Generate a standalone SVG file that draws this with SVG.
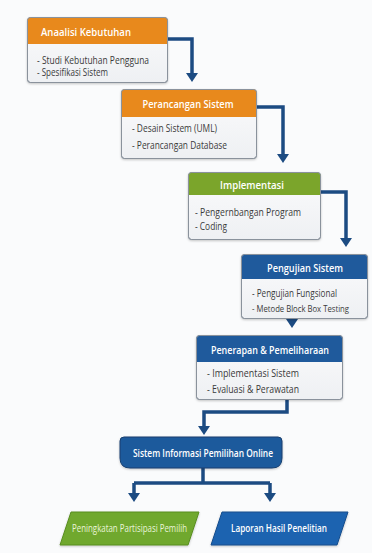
<svg xmlns="http://www.w3.org/2000/svg" width="372" height="553" viewBox="0 0 372 553">
<defs>
<filter id="sh" x="-10%" y="-10%" width="120%" height="130%"><feDropShadow dx="0" dy="1" stdDeviation="1" flood-color="#000" flood-opacity="0.22"/></filter>
<linearGradient id="bodyg" x1="0" y1="0" x2="0" y2="1"><stop offset="0" stop-color="#FBFBFC"/><stop offset="1" stop-color="#EEF0F3"/></linearGradient>
<marker id="ah" markerUnits="userSpaceOnUse" markerWidth="13" markerHeight="13" viewBox="0 -6.5 10 13" refX="0" refY="0" orient="auto"><path d="M0,-6 L9,0 L0,6 Z" fill="#1C4B82"/></marker>
<style>
.body{fill:url(#bodyg);stroke:#9199A3;stroke-width:1;}
.frame{fill:none;stroke:#8A929C;stroke-width:1;}
.orange{fill:#E8891C;}
.green{fill:#7BA52B;}
.blue{fill:#1F5A9C;}
.ht{font-family:"Open Sans","Liberation Sans",sans-serif;font-size:11.5px;font-weight:600;fill:#FFFFFF;}
.bt{font-family:"Open Sans","Liberation Sans",sans-serif;font-size:10px;fill:#3A3A3A;}
.con{fill:none;stroke:#1C4B82;stroke-width:3.5;stroke-linejoin:miter;}
</style>
</defs>
<rect width="372" height="553" fill="#FAFBFC"/>

<g id="connectors">
<path class="con" d="M168,39 H192 V73" marker-end="url(#ah)"/>
<path class="con" d="M257,107 H283 V154" marker-end="url(#ah)"/>
<path class="con" d="M321,192 H346 V238" marker-end="url(#ah)"/>
<path class="con" d="M292,317 V319" marker-end="url(#ah)"/>
<path class="con" d="M287,400 V412 H204 V426" marker-end="url(#ah)"/>
<path class="con" d="M203,468 V483"/>
<path class="con" d="M134,483 H270"/>
<path class="con" d="M134,483 V493" marker-end="url(#ah)"/>
<path class="con" d="M270,483 V493" marker-end="url(#ah)"/>
</g>

<g id="analisi">
<rect class="body" x="27.5" y="17.5" width="140" height="65" rx="3" filter="url(#sh)"/>
<path class="orange" d="M27.5,44 V20.5 Q27.5,17.5 30.5,17.5 H164.5 Q167.5,17.5 167.5,20.5 V44 Z"/>
<rect class="frame" x="27.5" y="17.5" width="140" height="65" rx="3"/>
<text class="ht" x="41" y="36" textLength="90" lengthAdjust="spacingAndGlyphs">Anaalisi Kebutuhan</text>
<text class="bt" x="37" y="63.5" textLength="112" lengthAdjust="spacingAndGlyphs">- Studi Kebutuhan Pengguna</text>
<text class="bt" x="37" y="76" textLength="71" lengthAdjust="spacingAndGlyphs">- Spesifikasi Sistem</text>
</g>

<g id="perancangan">
<rect class="body" x="121.5" y="89.5" width="135" height="69" rx="3" filter="url(#sh)"/>
<path class="orange" d="M121.5,117 V92.5 Q121.5,89.5 124.5,89.5 H253.5 Q256.5,89.5 256.5,92.5 V117 Z"/>
<rect class="frame" x="121.5" y="89.5" width="135" height="69" rx="3"/>
<text class="ht" x="188" y="107.5" text-anchor="middle" textLength="91" lengthAdjust="spacingAndGlyphs">Perancangan Sistem</text>
<text class="bt" x="132" y="131.5" textLength="85" lengthAdjust="spacingAndGlyphs">- Desain Sistem (UML)</text>
<text class="bt" x="132" y="148.5" textLength="95" lengthAdjust="spacingAndGlyphs">- Perancangan Database</text>
</g>

<g id="implementasi">
<rect class="body" x="188.5" y="172.5" width="132" height="67" rx="3" filter="url(#sh)"/>
<path class="green" d="M188.5,195 V175.5 Q188.5,172.5 191.5,172.5 H317.5 Q320.5,172.5 320.5,175.5 V195 Z"/>
<rect class="frame" x="188.5" y="172.5" width="132" height="67" rx="3"/>
<text class="ht" x="252" y="189" text-anchor="middle" textLength="64" lengthAdjust="spacingAndGlyphs">Implementasi</text>
<text class="bt" x="195" y="215.5" textLength="106" lengthAdjust="spacingAndGlyphs">- Pengernbangan Program</text>
<text class="bt" x="195" y="229.5" textLength="32" lengthAdjust="spacingAndGlyphs">- Coding</text>
</g>

<g id="pengujian">
<rect class="body" x="241.5" y="254.5" width="126" height="64" rx="3" filter="url(#sh)"/>
<path class="blue" d="M241.5,279 V257.5 Q241.5,254.5 244.5,254.5 H364.5 Q367.5,254.5 367.5,257.5 V279 Z"/>
<rect class="frame" x="241.5" y="254.5" width="126" height="64" rx="3"/>
<text class="ht" x="305" y="272" text-anchor="middle" textLength="76" lengthAdjust="spacingAndGlyphs">Pengujian Sistem</text>
<text class="bt" x="252" y="296.5" textLength="85" lengthAdjust="spacingAndGlyphs">- Pengujian Fungsional</text>
<text class="bt" x="252" y="311.5" textLength="97" lengthAdjust="spacingAndGlyphs" style="font-size:9px">- Metode Block Box Testing</text>
</g>

<g id="penerapan">
<rect class="body" x="196.5" y="335.5" width="146" height="64" rx="3" filter="url(#sh)"/>
<path class="blue" d="M196.5,362 V338.5 Q196.5,335.5 199.5,335.5 H339.5 Q342.5,335.5 342.5,338.5 V362 Z"/>
<rect class="frame" x="196.5" y="335.5" width="146" height="64" rx="3"/>
<text class="ht" x="270" y="354" text-anchor="middle" textLength="118" lengthAdjust="spacingAndGlyphs">Penerapan &amp; Pemeliharaan</text>
<text class="bt" x="207" y="376.5" textLength="92" lengthAdjust="spacingAndGlyphs">- Implementasi Sistem</text>
<text class="bt" x="207" y="392.5" textLength="92" lengthAdjust="spacingAndGlyphs">- Evaluasi &amp; Perawatan</text>
</g>

<g id="sistem-informasi">
<path d="M124,437 H278 Q282,437 282,441 V458 Q282,468 272,468 H130 Q120,468 120,458 V441 Q120,437 124,437 Z" fill="#1F5A9C" stroke="#163F6F" stroke-width="1" filter="url(#sh)"/>
<text x="203" y="456.5" text-anchor="middle" textLength="140" lengthAdjust="spacingAndGlyphs" style="font-family:'Open Sans','Liberation Sans',sans-serif;font-size:10.5px;font-weight:600;fill:#FFFFFF">Sistem Informasi Pemilihan Online</text>
</g>

<g id="peningkatan">
<polygon points="71,512 199,512 188,545 60,545" fill="#6FA82D" stroke="#5A8E22" stroke-width="1" filter="url(#sh)"/>
<text x="129.5" y="532" text-anchor="middle" textLength="115" lengthAdjust="spacingAndGlyphs" style="font-family:'Open Sans','Liberation Sans',sans-serif;font-size:10px;fill:#E9F4D8">Peningkatan Partisipasi Pemilih</text>
</g>

<g id="laporan">
<polygon points="222,512 348,512 337,545 211,545" fill="#1E63B0" stroke="#174E8C" stroke-width="1" filter="url(#sh)"/>
<text x="279" y="532" text-anchor="middle" textLength="96" lengthAdjust="spacingAndGlyphs" style="font-family:'Open Sans','Liberation Sans',sans-serif;font-size:10px;font-weight:600;fill:#FFFFFF">Laporan Hasil Penelitian</text>
</g>
</svg>
